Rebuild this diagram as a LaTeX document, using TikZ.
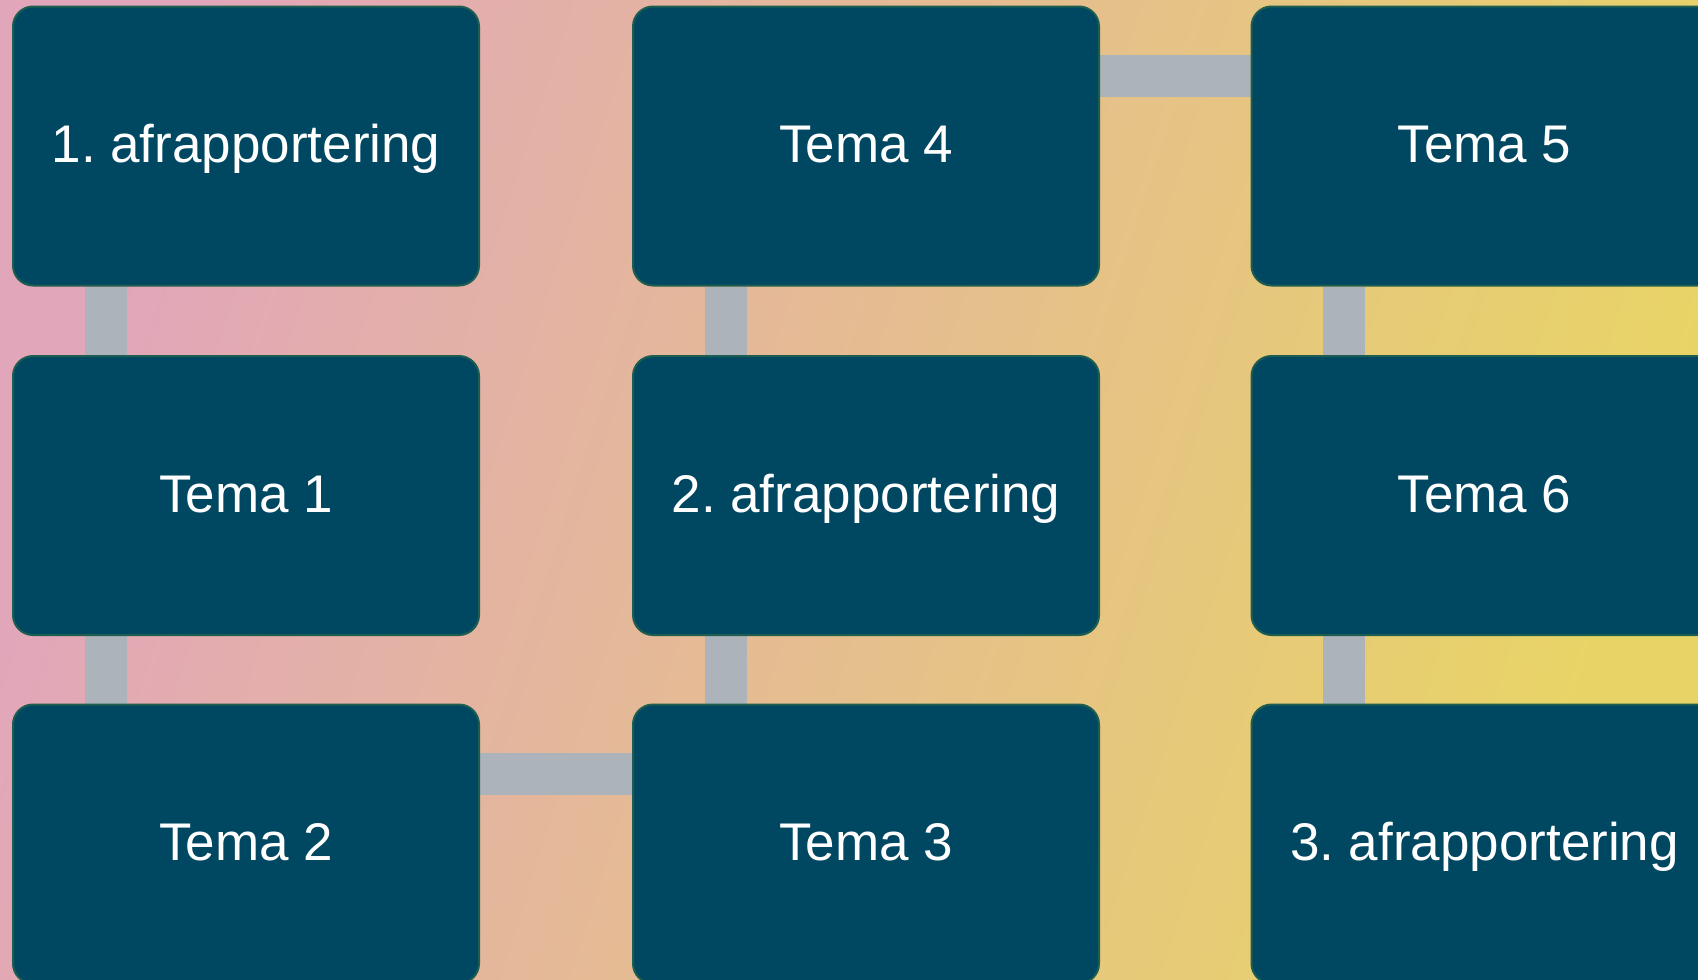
\documentclass[tikz,border=0pt]{standalone}
\usepackage{fontspec}
\setmainfont{Liberation Sans}
\usetikzlibrary{calc,backgrounds}
\frenchspacing

\definecolor{boxfill}{HTML}{004762}
\definecolor{boxline}{HTML}{1E5E50}
\definecolor{linkgray}{HTML}{ACB3BB}
\definecolor{bgpink}{HTML}{E2A6BA}
\definecolor{bgpeach}{HTML}{E6B6A0}
\definecolor{bgyellow}{HTML}{E8D466}

\tikzset{
	stage/.style={draw=boxline, line width=1pt, fill=boxfill, rounded corners=10pt,
		minimum width=233pt, minimum height=139.5pt, text=white,
		text height=16.5pt, text depth=0pt,
		font=\fontsize{26.5}{32}\selectfont},
	link/.style={draw=linkgray, line width=21pt}
}

\begin{document}
\begin{tikzpicture}[x=0.5pt, y=-0.5pt]
		
		\useasboundingbox (0,0) rectangle (1698,980);
		
		% first column, top to bottom
		\node[stage] (afr1) at (246,146) {1. afrapportering};
		\node[stage] (tema1) at (246,495.5) {Tema 1};
		\node[stage] (tema2) at (246,844) {Tema 2};
		
		% second column, bottom to top
		\node[stage] (tema3) at (866,844) {Tema 3};
		\node[stage] (afr2) at (866,495.5) {2. afrapportering};
		\node[stage] (tema4) at (866,146) {Tema 4};
		
		% third column, top to bottom
		\node[stage] (tema5) at (1484.5,146) {Tema 5};
		\node[stage] (tema6) at (1484.5,495.5) {Tema 6};
		\node[stage] (afr3) at (1484.5,844) {3. afrapportering};
		
		\begin{scope}[on background layer]
			\shade[shading=axis, left color=bgpink, middle color=bgpeach, right color=bgyellow,
				shading angle=72] (0,0) rectangle (1698,980);
			
			% connectors, in the order of the process
			\draw[link] ($(afr1.south west)!0.2!(afr1.south east)$) -- ($(tema1.north west)!0.2!(tema1.north east)$);
			\draw[link] ($(tema1.south west)!0.2!(tema1.south east)$) -- ($(tema2.north west)!0.2!(tema2.north east)$);
			\draw[link] ($(tema2.north east)!0.25!(tema2.south east)$) -- ($(tema3.north west)!0.25!(tema3.south west)$);
			\draw[link] ($(tema3.north west)!0.2!(tema3.north east)$) -- ($(afr2.south west)!0.2!(afr2.south east)$);
			\draw[link] ($(afr2.north west)!0.2!(afr2.north east)$) -- ($(tema4.south west)!0.2!(tema4.south east)$);
			\draw[link] ($(tema4.north east)!0.25!(tema4.south east)$) -- ($(tema5.north west)!0.25!(tema5.south west)$);
			\draw[link] ($(tema5.south west)!0.2!(tema5.south east)$) -- ($(tema6.north west)!0.2!(tema6.north east)$);
			\draw[link] ($(tema6.south west)!0.2!(tema6.south east)$) -- ($(afr3.north west)!0.2!(afr3.north east)$);
		\end{scope}
		
	\end{tikzpicture}
\end{document}
